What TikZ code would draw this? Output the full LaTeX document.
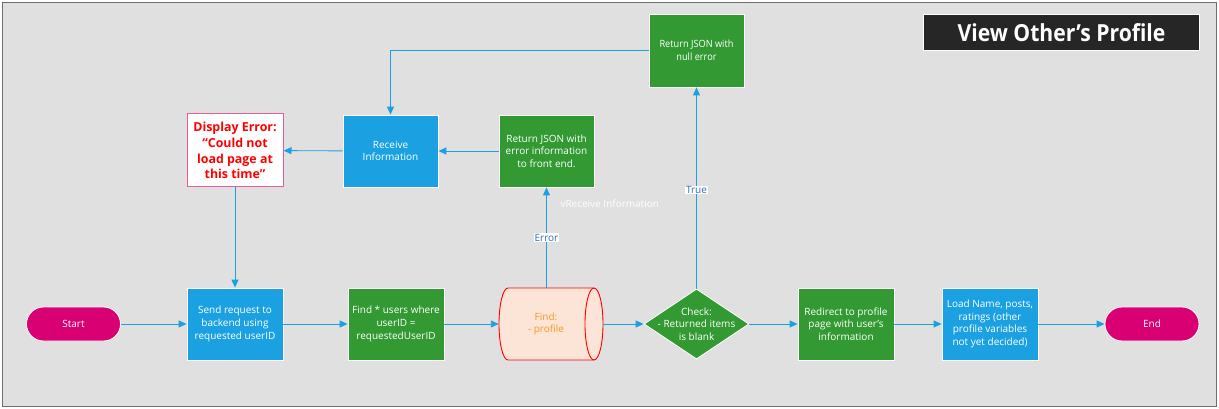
\documentclass[tikz,border=0pt]{standalone}
\usepackage{fontspec}
\setmainfont{Open Sans}
\usetikzlibrary{shapes.geometric,arrows.meta}
\definecolor{bggray}{HTML}{E0E0E0}
\definecolor{framegray}{HTML}{6E6E6E}
\definecolor{flowblue}{HTML}{1BA1E2}
\definecolor{flowgreen}{HTML}{339933}
\definecolor{flowpink}{HTML}{D80073}
\definecolor{dbfill}{HTML}{FCE4D6}
\definecolor{dbtext}{HTML}{F59A23}
\definecolor{errborder}{HTML}{E0609B}
\definecolor{labblue}{HTML}{2E6DB4}
\definecolor{titlebg}{HTML}{262626}
\begin{document}
\begin{tikzpicture}[x=1pt,y=-1pt,
  body/.style={font=\fontsize{10}{12.6}\selectfont},
  proc/.style={body, rectangle, draw=white, line width=0.8pt, text=white,
    minimum width=96pt, minimum height=72pt, inner sep=0pt, align=center},
  bluebox/.style={proc, fill=flowblue},
  greenbox/.style={proc, fill=flowgreen},
  terminal/.style={body, rectangle, rounded corners=17pt, draw=white, line width=0.8pt,
    fill=flowpink, text=white, minimum width=94pt, minimum height=34pt},
  decision/.style={diamond, draw=white, line width=0.8pt, fill=flowgreen,
    minimum width=105pt, minimum height=70pt, inner sep=0pt},
  conn/.style={draw=flowblue, line width=0.9pt, -{Triangle[length=8pt,width=7pt]}},
  edgelabel/.style={body, fill=white, text=labblue, inner sep=0.8pt}]
\useasboundingbox (0,0) rectangle (1219,409);
\fill[white] (0,0) rectangle (1219,409);
\draw[framegray, line width=1.5pt, fill=bggray] (2.5,2.5) rectangle (1216.5,406.5);

% title
\node[rectangle, fill=titlebg, draw=white, line width=0.8pt, text=white,
  minimum width=276pt, minimum height=36pt, inner sep=0pt,
  font=\fontsize{23.5}{26}\bfseries\selectfont] (title) at (1061.5,32.5)
  {\scalebox{0.9}[1]{View Other’s Profile}};

% main row
\node[terminal] (start) at (73.5,324) {Start};
\node[bluebox] (send) at (235,324) {Send request to\\backend using\\requested userID};
\node[greenbox] (find) at (396,324) {Find * users where\\userID =\\requestedUserID};
\node[minimum width=104pt, minimum height=72pt, inner sep=0pt] (db) at (551,324) {};
\filldraw[draw=red, fill=dbfill, line width=0.9pt]
  (508,288) -- (594,288) arc[start angle=90, end angle=-90, x radius=9pt, y radius=36pt]
  -- (508,360) arc[start angle=-90, end angle=-270, x radius=9pt, y radius=36pt] -- cycle;
\draw[red, line width=0.9pt]
  (594,288) arc[start angle=90, end angle=270, x radius=9pt, y radius=36pt];
\node[body, text=dbtext, align=center] (dbtxt) at (546,324) {Find:\\- profile};
\node[decision] (check) at (696.5,324) {};
\node[body, text=white, align=center] (checktxt) at (check.center) {Check:\\- Returned items\\is blank};
\node[greenbox] (redirect) at (846,324) {Redirect to profile\\page with user’s\\information};
\node[bluebox] (load) at (990,324) {Load Name, posts,\\ratings (other\\profile variables\\not yet decided)};
\node[terminal] (end) at (1152,324) {End};

% upper rows
\node[rectangle, draw=errborder, line width=1pt, fill=white, text=red,
  minimum width=96pt, minimum height=73pt, inner sep=0pt, align=center,
  font=\fontsize{12.4}{15.8}\bfseries\selectfont] (disp) at (235,150.5)
  {Display Error:\\“Could not\\load page at\\this time”};
\node[bluebox, minimum width=95pt] (recv) at (390.5,151) {Receive\\Information};
\node[greenbox, minimum width=95pt] (reterr) at (546.5,151) {Return JSON with\\error information\\to front end.};
\node[greenbox, minimum width=95pt, minimum height=73pt] (nullerr) at (696.5,50.5)
  {\scalebox{0.92}[1]{Return JSON with}\\\scalebox{0.92}[1]{null error}};
\node[body, text=white, anchor=west] (note) at (557,204) {vReceive Information};

% connectors
\draw[conn] (start) -- (send);
\draw[conn] (send) -- (find);
\draw[conn] (find) -- (db);
\draw[conn] (db) -- (check);
\draw[conn] (check) -- (redirect);
\draw[conn] (redirect) -- (load);
\draw[conn] (load) -- (end);
\draw[conn] (db.north -| reterr.south) -- node[edgelabel] {Error} (reterr.south);
\draw[conn] (check.north) -- node[edgelabel, pos=0.49] {True} (nullerr.south);
\draw[conn] (nullerr.west) -| (recv.north);
\draw[conn] (reterr) -- (recv);
\draw[conn] (recv) -- (disp);
\draw[conn] (disp) -- (send);
\end{tikzpicture}
\end{document}
